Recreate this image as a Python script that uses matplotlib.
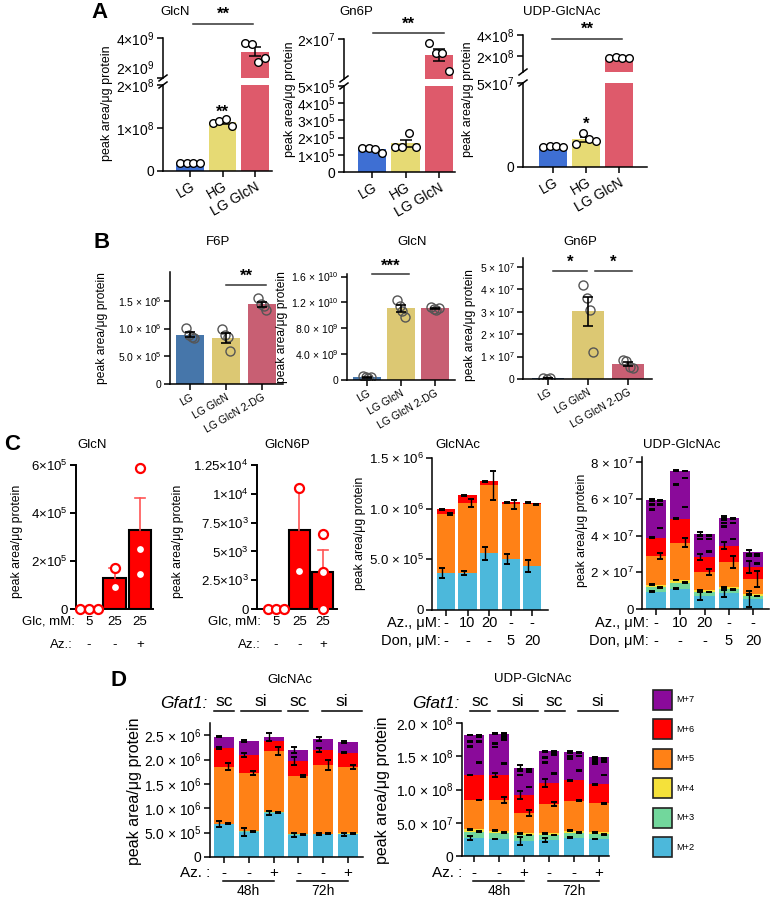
import numpy as np
import matplotlib
matplotlib.use('Agg')
import matplotlib.pyplot as plt
from matplotlib.lines import Line2D
from matplotlib.patches import Rectangle
from matplotlib.transforms import blended_transform_factory

plt.rcParams['font.family'] = ['Liberation Sans', 'DejaVu Sans']
plt.rcParams['mathtext.fontset'] = 'custom'
plt.rcParams['mathtext.rm'] = 'Liberation Sans'
plt.rcParams['mathtext.it'] = 'Liberation Sans:italic'
plt.rcParams['mathtext.bf'] = 'Liberation Sans:bold'
plt.rcParams['axes.linewidth'] = 1.1

# ---------------- data ----------------
# A: LG / HG / LG GlcN, four replicates each
a_groups = ['LG', 'HG', 'LG GlcN']
a_glcn = [[1.9e7, 1.9e7, 1.9e7, 1.9e7],
          [1.12e8, 1.17e8, 1.2e8, 1.04e8],
          [3.77e9, 3.69e9, 2.82e9, 3.0e9]]
a_gn6p = [[1.4e5, 1.4e5, 1.34e5, 1.1e5],
          [1.47e5, 1.47e5, 2.28e5, 1.47e5],
          [1.84e7, 1.46e7, 1.46e7, 0.81e7]]
a_udp = [[1.18e7, 1.25e7, 1.25e7, 1.22e7],
         [1.37e7, 2.0e7, 1.65e7, 1.57e7],
         [1.80e8, 1.95e8, 1.80e8, 1.78e8]]

# B: LG / LG GlcN / LG GlcN 2-DG
b_groups = ['LG', 'LG GlcN', 'LG GlcN 2-DG']
b_f6p = [[1.01e6, 8.8e5, 8.5e5, 8.3e5],
         [1.0e6, 8.8e5, 8.4e5, 6.0e5],
         [1.55e6, 1.45e6, 1.4e6, 1.34e6]]
b_glcn = [[6.5e8, 4.0e8, 3.5e8, 4.0e8],
          [1.245e10, 1.15e10, 1.06e10, 9.76e9],
          [1.13e10, 1.1e10, 1.08e10, 1.12e10]]
b_gn6p = [[3e5, 2e5, 3e5],
          [4.2e7, 3.6e7, 3.1e7, 1.2e7],
          [8.5e6, 8.0e6, 5.5e6, 4.8e6]]

# C: glucose / azaserine
c_glc = ['5', '25', '25']
c_az = ['-', '-', '+']
c_glcn = [[0, 0, 0], [1.7e5, 0.92e5], [5.87e5, 2.5e5, 1.46e5]]
c_glcn6p = [[0, 0, 0], [1.05e4, 3.3e3], [6.5e3, 3.2e3, 0]]

iso_labels = ['M+2', 'M+3', 'M+4', 'M+5', 'M+6', 'M+7']
c_az_um = ['-', '10', '20', '-', '-']
c_don_um = ['-', '-', '-', '5', '20']
c_glcnac_iso = [[3.65e5, 3.65e5, 5.6e5, 5.0e5, 4.35e5],
                [0, 0, 0, 0, 0],
                [0, 0, 0, 0, 0],
                [5.82e5, 6.9e5, 6.7e5, 5.45e5, 6.1e5],
                [4.9e4, 7.9e4, 4e4, 2e4, 1.5e4],
                [0, 0, 0, 0, 0]]
c_glcnac_err = [[5e4, 1.5e4, 6.5e4, 5e4, 6e4],
                [0, 0, 0, 0, 0],
                [0, 0, 0, 0, 0],
                [1e4, 4e4, 1.4e5, 4.5e4, 5e3],
                [5e3, 5e3, 5e3, 5e3, 5e3],
                [0, 0, 0, 0, 0]]
c_udp_iso = [[0.95e7, 1.1e7, 0.71e7, 0.86e7, 0.55e7],
             [0.24e7, 0.34e7, 0.22e7, 0.22e7, 0.16e7],
             [0.13e7, 0.15e7, 0.09e7, 0.11e7, 0.09e7],
             [1.58e7, 2.04e7, 1.02e7, 1.39e7, 0.84e7],
             [1.0e7, 1.3e7, 0.79e7, 0.87e7, 0.64e7],
             [2.07e7, 2.63e7, 1.28e7, 1.52e7, 0.82e7]]
c_udp_err = [[2e5, 2e5, 2e6, 2e6, 4.4e6],
             [2e5, 2e5, 2e5, 2e5, 2e5],
             [2e5, 2e5, 2e5, 2e5, 2e5],
             [1.5e6, 2.7e6, 1.6e6, 3.3e6, 4.4e6],
             [2e5, 2e5, 1.6e6, 2e6, 3.3e6],
             [2e5, 2e5, 1e6, 1e6, 1e6]]
# error marks of the minor isotopologues inside the M+7 segment
c_udp_marks_l = [[5.94e7, 5.7e7, 5.43e7], [7.53e7, 6.8e7], [4.0e7, 3.82e7],
                 [4.93e7, 4.7e7, 4.51e7], [3.01e7, 2.9e7]]
c_udp_marks_r = [[5.94e7, 5.7e7, 4.42e7], [7.53e7, 7.16e7, 5.57e7], [4.0e7, 3.82e7, 3.14e7],
                 [4.93e7, 4.7e7, 3.82e7], [3.01e7, 2.9e7, 2.5e7]]

# D: Gfat1 knockdown, 48h / 72h
d_gfat = ['sc', 'si', 'sc', 'si']
d_gfat_span = [(0, 0), (1, 2), (3, 3), (4, 5)]
d_az = ['-', '-', '+', '-', '-', '+']
d_time = ['48h', '72h']
d_time_span = [(0, 2), (3, 5)]
d_glcnac_iso = [[6.7e5, 5.19e5, 9.09e5, 4.5e5, 4.65e5, 4.7e5],
                [1.2e4, 1.2e4, 1.2e4, 1.2e4, 1.2e4, 1.2e4],
                [4e3, 4e3, 4e3, 4e3, 4e3, 4e3],
                [1.164e6, 1.195e6, 1.245e6, 1.194e6, 1.404e6, 1.364e6],
                [3.9e5, 3.7e5, 2.1e5, 3.1e5, 3.05e5, 2.9e5],
                [2.3e5, 2.8e5, 0.9e5, 2.2e5, 2.3e5, 2.2e5]]
d_glcnac_err = [[6e4, 8e4, 4e4, 4e4, 2e4, 3e4],
                [1e4, 1e4, 1e4, 1e4, 1e4, 1e4],
                [0, 0, 0, 0, 0, 0],
                [7e4, 4e4, 8e4, 1.5e4, 1e5, 4e4],
                [1.5e4, 4e4, 0, 8e4, 4e4, 1.5e4],
                [1.5e4, 1.5e4, 8e4, 6e4, 4e4, 1.5e4]]
d_udp_iso = [[2.76e7, 2.56e7, 2.26e7, 2.41e7, 2.76e7, 2.56e7],
             [0.9e7, 0.95e7, 0.9e7, 0.75e7, 0.75e7, 0.7e7],
             [0.36e7, 0.30e7, 0.25e7, 0.25e7, 0.30e7, 0.30e7],
             [4.41e7, 4.62e7, 3.01e7, 4.42e7, 4.52e7, 4.37e7],
             [3.77e7, 3.77e7, 2.77e7, 3.17e7, 3.07e7, 2.87e7],
             [6.0e7, 6.2e7, 4.01e7, 4.8e7, 4.3e7, 4.1e7]]
d_udp_err = [[3e6, 5e5, 6e6, 3e6, 5e5, 5e5],
             [5e5, 5e5, 5e5, 5e5, 5e5, 5e5],
             [5e5, 5e5, 5e5, 5e5, 5e5, 5e5],
             [5e5, 4.5e6, 4.5e6, 3e6, 5e5, 5e5],
             [5e5, 3e6, 6e6, 6e6, 5e5, 5e5],
             [5e5, 5e5, 4.5e6, 5e5, 5e5, 5e5]]
d_udp_marks_l = [[1.82e8, 1.72e8, 1.646e8], [1.84e8, 1.687e8, 1.637e8], [1.31e8, 1.22e8],
                 [1.57e8, 1.486e8, 1.405e8], [1.556e8, 1.506e8, 1.47e8], [1.47e8, 1.42e8, 1.386e8]]
d_udp_marks_r = [[1.82e8, 1.787e8, 1.722e8, 1.405e8], [1.84e8, 1.80e8, 1.747e8, 1.386e8],
                 [1.31e8, 1.27e8, 1.04e8], [1.57e8, 1.53e8, 1.245e8],
                 [1.556e8, 1.506e8, 1.285e8], [1.47e8, 1.42e8, 1.22e8]]

# ---------------- style ----------------
a_colors = ['#3e6fd3', '#e6da74', '#de5a6b']
b_colors = ['#4676aa', '#dcc873', '#c85f73']
iso_colors = ['#4cb8db', '#72d79c', '#f5e13a', '#ff8116', '#ff0000', '#8a0a9a']
err_dx = [-0.18, 0.18, -0.18, 0.18, -0.18, -0.18]
a_dot_dx = np.array([-0.3, -0.1, 0.1, 0.3])
b_dot_dx = np.array([-0.12, -0.04, 0.04, 0.12])

W, H = 770, 900
fig = plt.figure(figsize=(W / 100, H / 100), dpi=100)


def fy(y):
    return 1 - y / H


def box(l, t, r, b):
    return fig.add_axes([l / W, fy(b), (r - l) / W, (b - t) / H])


def txt(x, y, s, **kw):
    kw.setdefault('ha', 'center')
    kw.setdefault('va', 'center')
    return fig.text(x / W, fy(y), s, **kw)


def mean_sem(groups):
    m = np.array([np.mean(g) for g in groups])
    s = np.array([np.std(g, ddof=1) / np.sqrt(len(g)) if len(g) > 1 else 0 for g in groups])
    return m, s


def sig(ax, x0, x1, y_line, label, y_text, fs=12):
    tr = blended_transform_factory(ax.transData, fig.transFigure)
    ax.plot([x0, x1], [fy(y_line)] * 2, transform=tr, color='#333', lw=1.1, clip_on=False)
    ax.text((x0 + x1) / 2, fy(y_text), label, transform=tr, ha='center', va='center',
            fontsize=fs, fontweight='bold', clip_on=False)


def row(ax, y, label, label_x, values, fs, **kw):
    tr = blended_transform_factory(ax.transData, fig.transFigure)
    txt(label_x, y, label, ha='right', fontsize=fs, **kw)
    for i, v in enumerate(values):
        ax.text(i, fy(y), v, transform=tr, ha='center', va='center', fontsize=fs)


def clean(ax, fs, lw=1.1):
    ax.spines['top'].set_visible(False)
    ax.spines['right'].set_visible(False)
    ax.tick_params(labelsize=fs, length=4, width=lw, pad=2)


def broken_bar(l, r, t, bh, bl, b, data, xlim, lo_lim, hi_lim, lo_ticks, lo_lbls, hi_ticks, hi_lbls):
    axh = box(l, t, r, bh)
    axl = box(l, bl, r, b)
    m, s = mean_sem(data)
    x = np.arange(len(data))
    for ax, lim in ((axh, hi_lim), (axl, lo_lim)):
        ax.bar(x, m, width=0.85, color=a_colors, zorder=1)
        ax.errorbar(x, m, yerr=s, fmt='none', ecolor='k', elinewidth=1.1, capsize=4,
                    capthick=1.1, zorder=3)
        for xi, g in zip(x, data):
            g = np.asarray(g)
            keep = (g >= lim[0]) & (g <= lim[1])
            if keep.any():
                ax.plot(xi + a_dot_dx[:len(g)][keep], g[keep], 'o', ms=5.5, mfc='white',
                        mec='k', mew=1, zorder=4)
        ax.set_xlim(xlim)
        ax.set_ylim(lim)
        clean(ax, 10)
    axh.spines['bottom'].set_visible(False)
    axh.set_xticks([])
    axh.set_yticks(hi_ticks, hi_lbls)
    # a label sitting on the break is lifted above it, clear of the lower segment
    for tick_val, lab in zip(hi_ticks, axh.get_yticklabels()):
        if tick_val == hi_lim[0]:
            lab.set_va('bottom')
    axl.set_yticks(lo_ticks, lo_lbls)
    axl.set_xticks(x, a_groups, rotation=30, ha='right', rotation_mode='anchor', fontsize=10)
    for yy in (bh, bl):
        fig.add_artist(Line2D([(l - 4) / W, (l + 4) / W], [fy(yy + 3), fy(yy - 3)], color='k', lw=1.1))
    return axh, axl


def dot_bar(l, t, r, b, data, xlim, ylim, ticks, lbls, width):
    ax = box(l, t, r, b)
    m, s = mean_sem(data)
    x = np.arange(len(data))
    ax.bar(x, m, width=width, color=b_colors, zorder=1)
    for xi, g in zip(x, data):
        ax.plot(xi + b_dot_dx[:len(g)], g, 'o', ms=6.5, mfc='none', mec='#555', mew=1, zorder=2)
    ax.errorbar(x, m, yerr=s, fmt='none', ecolor='k', elinewidth=1.2, capsize=3.5, capthick=1.2, zorder=3)
    ax.set_xlim(xlim)
    ax.set_ylim(ylim)
    ax.set_yticks(ticks, lbls)
    ax.set_xticks(x, b_groups, rotation=30, ha='right', rotation_mode='anchor', fontsize=7)
    clean(ax, 7.5)
    return ax


def red_bar(l, t, r, b, data, xlim, ylim, ticks, lbls, dot_dx):
    ax = box(l, t, r, b)
    m, s = mean_sem(data)
    x = np.arange(len(data))
    ax.bar(x, m, width=0.9, color='#ff0000', edgecolor='k', lw=1.5, zorder=1)
    for xi, mi, si in zip(x, m, s):
        if si > 0:
            ax.plot([xi, xi], [mi, mi + si], color='#ff5555', lw=1.2, zorder=2)
            ax.plot([xi - 0.2, xi + 0.2], [mi + si] * 2, color='#ff5555', lw=1.2, zorder=2)
    for xi, g, dx in zip(x, data, dot_dx):
        ax.plot(xi + np.array(dx), g, 'o', ms=6.5, mfc='white', mec='#ff0000', mew=1.6,
                zorder=4, clip_on=False)
    ax.set_xlim(xlim)
    ax.set_ylim(ylim)
    ax.set_yticks(ticks, lbls)
    ax.set_xticks([])
    clean(ax, 9.5, 1.4)
    ax.spines['left'].set_linewidth(1.4)
    ax.spines['bottom'].set_linewidth(1.4)
    return ax


def stacked(l, t, r, b, iso, err, xlim, ylim, ticks, lbls, fs, width=0.8,
            marks_l=None, marks_r=None, mark_err=0.0):
    ax = box(l, t, r, b)
    iso = np.asarray(iso, float)
    err = np.asarray(err, float)
    x = np.arange(iso.shape[1])
    base = np.zeros(len(x))
    for k in range(len(iso)):
        ax.bar(x, iso[k], width=width, bottom=base, color=iso_colors[k], lw=0, zorder=1)
        top = base + iso[k]
        ok = err[k] > 0
        if ok.any():
            ax.errorbar(x[ok] + err_dx[k], top[ok], yerr=err[k][ok], fmt='none', ecolor='k',
                        elinewidth=1, capsize=2.4, capthick=1.4, zorder=3)
        base = top
    for marks, dx in ((marks_l, -0.18), (marks_r, 0.18)):
        if marks is None:
            continue
        for i, lv in enumerate(marks):
            ax.errorbar(np.full(len(lv), i + dx), lv, yerr=mark_err, fmt='none', ecolor='k',
                        elinewidth=1, capsize=2.4, capthick=1.4, zorder=3)
    ax.set_xlim(xlim)
    ax.set_ylim(ylim)
    ax.set_yticks(ticks, lbls)
    ax.set_xticks(x, [''] * len(x))
    clean(ax, fs)
    return ax


YL = 'peak area/μg protein'

# ---------------- A ----------------
txt(100, 12, 'A', fontsize=16, fontweight='bold')
h1, l1 = broken_bar(163, 272, 38, 78, 85, 171, a_glcn, (-0.83, 2.52), (0, 2e8), (2e9, 4e9),
                    [0, 1e8, 2e8], ['0', '1×10$^8$', '2×10$^8$'], [2e9, 4e9], ['2×10$^9$', '4×10$^9$'])
h2, l2 = broken_bar(344, 455, 39, 79, 86, 172, a_gn6p, (-0.84, 2.48), (0, 5e5), (5e6, 2e7),
                    [0, 1e5, 2e5, 3e5, 4e5, 5e5],
                    ['0', '1×10$^5$', '2×10$^5$', '3×10$^5$', '4×10$^5$', '5×10$^5$'],
                    [2e7], ['2×10$^7$'])
h3, l3 = broken_bar(523, 647, 35, 72, 83, 167, a_udp, (-0.91, 2.85), (0, 5e7), (4.8e7, 4e8),
                    [0, 5e7], ['0', '5×10$^7$'], [2e8, 4e8], ['2×10$^8$', '4×10$^8$'])
for x, t in ((175, 'GlcN'), (356, 'Gn6P'), (562, 'UDP-GlcNAc')):
    txt(x, 12, t, fontsize=9.5)
for x, y in ((107, 103), (290, 99), (468, 99)):
    txt(x, y, YL, rotation=90, fontsize=9)
sig(h1, 0.1, 1.94, 24, '**', 14)
sig(h2, 0.03, 2.15, 33, '**', 24)
sig(h3, -0.03, 2.09, 39, '**', 29)
tr = blended_transform_factory(l1.transData, fig.transFigure)
l1.text(1, fy(112), '**', transform=tr, ha='center', va='center', fontsize=12, fontweight='bold')
tr = blended_transform_factory(l3.transData, fig.transFigure)
l3.text(1, fy(124), '*', transform=tr, ha='center', va='center', fontsize=12, fontweight='bold')

# ---------------- B ----------------
txt(102, 243, 'B', fontsize=16, fontweight='bold')
b1 = dot_bar(170, 272, 283, 384, b_f6p, (-0.56, 2.58), (0, 2.02e6), [0, 5e5, 1e6, 1.5e6],
             ['0', '5.0 × 10$^5$', '1.0 × 10$^6$', '1.5 × 10$^6$'], 0.78)
b2 = dot_bar(347, 274, 455, 380, b_glcn, (-0.59, 2.59), (0, 1.64e10), [0, 4e9, 8e9, 1.2e10, 1.6e10],
             ['0', '4.0 × 10$^9$', '8.0 × 10$^9$', '1.2 × 10$^{10}$', '1.6 × 10$^{10}$'], 0.8)
b3 = dot_bar(523, 258, 652, 379, b_gn6p, (-0.63, 2.6), (0, 5.4e7), [0, 1e7, 2e7, 3e7, 4e7, 5e7],
             ['0', '1 × 10$^7$', '2 × 10$^7$', '3 × 10$^7$', '4 × 10$^7$', '5 × 10$^7$'], 0.8)
for x, t in ((218, 'F6P'), (412, 'GlcN'), (580, 'Gn6P')):
    txt(x, 242, t, fontsize=9.5)
for x, y in ((102, 328), (282, 327), (470, 325)):
    txt(x, y, YL, rotation=90, fontsize=8.7)
sig(b1, 1.0, 2.1, 285, '**', 276)
sig(b2, 0.15, 1.24, 274, '***', 266)
sig(b3, 0.12, 0.98, 271, '*', 262)
sig(b3, 1.18, 2.1, 271, '*', 262)

# ---------------- C ----------------
txt(12, 445, 'C', fontsize=16, fontweight='bold')
dots_dx = [[-0.35, 0, 0.35], [0, 0], [0, 0, 0]]
c1 = red_bar(76, 465, 153, 609, c_glcn, (-0.51, 2.51), (0, 6e5), [0, 2e5, 4e5, 6e5],
             ['0', '2×10$^5$', '4×10$^5$', '6×10$^5$'], dots_dx)
c2 = red_bar(257, 465, 337, 609, c_glcn6p, (-0.81, 2.6), (0, 1.25e4),
             [0, 2.5e3, 5e3, 7.5e3, 1e4, 1.25e4],
             ['0', '2.5×10$^3$', '5×10$^3$', '7.5×10$^3$', '1×10$^4$', '1.25×10$^4$'], dots_dx)
row(c1, 622, 'Glc, mM:', 75, c_glc, 9.5)
row(c1, 645, 'Az.:', 73, c_az, 9.5)
row(c2, 622, 'Glc, mM:', 261, c_glc, 9.5)
row(c2, 645, 'Az.:', 261, c_az, 9.5)
c3 = stacked(432, 458, 548, 610, c_glcnac_iso, c_glcnac_err, (-0.65, 4.74), (0, 1.5e6),
             [0, 5e5, 1e6, 1.5e6], ['0', '5.0 × 10$^5$', '1.0 × 10$^6$', '1.5 × 10$^6$'], 9.5, width=0.84)
c4 = stacked(642, 457, 769, 609, c_udp_iso, c_udp_err, (-0.58, 4.66), (0, 8.3e7),
             [0, 2e7, 4e7, 6e7, 8e7], ['0', '2 × 10$^7$', '4 × 10$^7$', '6 × 10$^7$', '8 × 10$^7$'],
             9.5, width=0.83, marks_l=c_udp_marks_l, marks_r=c_udp_marks_r, mark_err=2e5)
row(c3, 623, 'Az., μM:', 441, c_az_um, 10.5)
row(c3, 641, 'Don, μM:', 441, c_don_um, 10.5)
row(c4, 623, 'Az., μM:', 649, c_az_um, 10.5)
row(c4, 641, 'Don, μM:', 649, c_don_um, 10.5)
for x, t in ((92, 'GlcN'), (287, 'GlcN6P'), (458, 'GlcNAc'), (682, 'UDP-GlcNAc')):
    txt(x, 445, t, fontsize=9.5)
for x, y in ((17, 541), (178, 541), (360, 533), (582, 530)):
    txt(x, y, YL, rotation=90, fontsize=8.8)

# ---------------- D ----------------
txt(118, 680, 'D', fontsize=16, fontweight='bold')
d1 = stacked(210, 723, 363, 857, d_glcnac_iso, d_glcnac_err, (-0.56, 5.6), (0, 2.75e6),
             [0, 5e5, 1e6, 1.5e6, 2e6, 2.5e6],
             ['0', '5.0 × 10$^5$', '1.0 × 10$^6$', '1.5 × 10$^6$', '2.0 × 10$^6$', '2.5 × 10$^6$'], 10)
d2 = stacked(462, 723, 609, 856, d_udp_iso, d_udp_err, (-0.48, 5.4), (0, 2.0e8),
             [0, 5e7, 1e8, 1.5e8, 2e8],
             ['0', '5.0 × 10$^7$', '1.0 × 10$^8$', '1.5 × 10$^8$', '2.0 × 10$^8$'], 10,
             marks_l=d_udp_marks_l, marks_r=d_udp_marks_r, mark_err=5e5)
txt(290, 680, 'GlcNAc', fontsize=9.5)
txt(533, 679, 'UDP-GlcNAc', fontsize=9.5)
txt(135, 791, YL, rotation=90, fontsize=11.5)
txt(382, 790, YL, rotation=90, fontsize=11.5)

for ax, lx, shift in ((d1, 208, [0, 0, 0, 0.25]), (d2, 460, [0.25, 0.25, 0.22, 0.44])):
    tr = blended_transform_factory(ax.transData, fig.transFigure)
    txt(lx, 703, 'Gfat1:', ha='right', fontsize=12.5, style='italic')
    for lab, (i0, i1), sh in zip(d_gfat, d_gfat_span, shift):
        half = 0.4 if i0 == i1 else 0.8
        c = (i0 + i1) / 2 + sh
        ax.text(c, fy(701), lab, transform=tr, ha='center', va='center', fontsize=12.5)
        ax.plot([c - half, c + half], [fy(711)] * 2, transform=tr, color='k', lw=1.1, clip_on=False)
    row(ax, 873, 'Az. :', lx + 2, d_az, 11)
    for lab, (i0, i1) in zip(d_time, d_time_span):
        ax.plot([i0 - 0.05, i1], [fy(881)] * 2, transform=tr, color='k', lw=1.1, clip_on=False)
        ax.text((i0 + i1) / 2, fy(891), lab, transform=tr, ha='center', va='center', fontsize=10)

# legend
for k in range(len(iso_labels) - 1, -1, -1):
    top = 690 + (len(iso_labels) - 1 - k) * 29.4
    fig.add_artist(Rectangle((653 / W, fy(top + 20)), 19 / W, 20 / H, facecolor=iso_colors[k],
                             edgecolor='#222', lw=1.2, transform=fig.transFigure))
    txt(676, top + 10, iso_labels[k], ha='left', fontsize=6.7)

fig.savefig('out.png', dpi=100)
